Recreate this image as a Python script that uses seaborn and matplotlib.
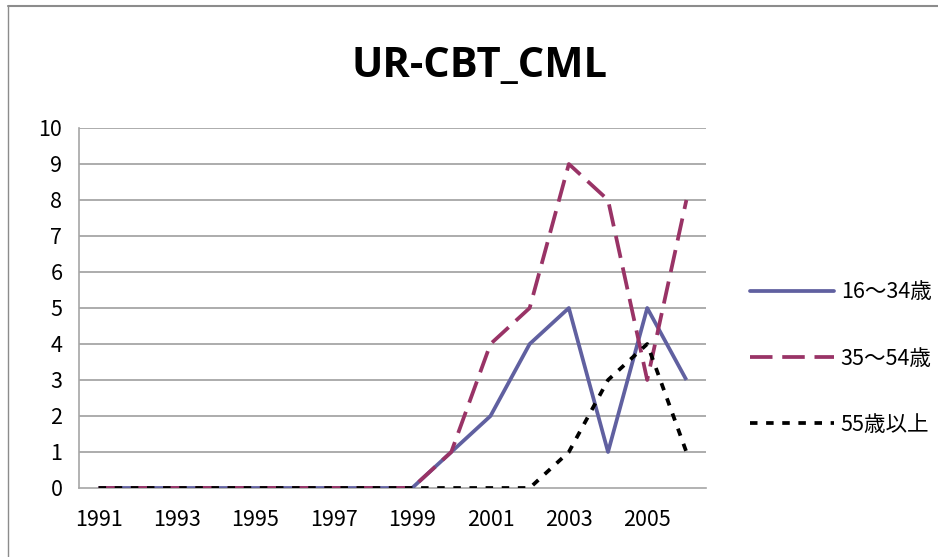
import numpy as np
import pandas as pd
import matplotlib
matplotlib.use("Agg")
import matplotlib.pyplot as plt
import seaborn as sns

years = list(range(1991, 2007))
young = [0, 0, 0, 0, 0, 0, 0, 0, 0, 1, 2, 4, 5, 1, 5, 3]
middle = [0, 0, 0, 0, 0, 0, 0, 0, 0, 1, 4, 5, 9, 8, 3, 8]
senior = [0, 0, 0, 0, 0, 0, 0, 0, 0, 0, 0, 0, 1, 3, 4, 1]
series_names = ["16～34歳", "35～54歳", "55歳以上"]
colors = ["#6060A0", "#993366", "#000000"]

sns.set_theme(style="white")
plt.rcParams["font.family"] = ["Noto Sans CJK JP", "DejaVu Sans"]
plt.rcParams["text.color"] = "black"
plt.rcParams["xtick.labelcolor"] = "black"
plt.rcParams["ytick.labelcolor"] = "black"

df = pd.DataFrame({"year": years, series_names[0]: young,
                   series_names[1]: middle, series_names[2]: senior})
df["pos"] = np.arange(len(years))
long = df.melt(id_vars=["year", "pos"], value_vars=series_names,
               var_name="group", value_name="count")

LW = 2.7
dash_styles = [(1, 0), (6, 2.6), (2.0, 2.3)]

fig = plt.figure(figsize=(9.38, 5.57), dpi=100)
ax = fig.add_axes([79 / 938, 1 - 488 / 557, 627 / 938, 360 / 557])

# horizontal gridlines first, behind the lines
for v in range(1, 11):
    ax.axhline(v, color="#A6A6A6", lw=1.3, zorder=0)

sns.lineplot(data=long, x="pos", y="count", hue="group", style="group",
             palette=colors, dashes=dash_styles,
             linewidth=LW, legend=False, ax=ax, zorder=3)
for ln in ax.lines[-3:]:
    ln.set_solid_capstyle("butt")
    ln.set_dash_capstyle("butt")

ax.set_xlim(-0.5, len(years) - 0.5)
ax.set_ylim(0, 10)
ax.set_yticks(range(0, 11))
ax.set_xticks(np.arange(-0.5, len(years), 1.0))
ax.set_xticklabels([])
ax.set_xticks(np.arange(0, len(years), 2), minor=True)
ax.set_xticklabels([str(y) for y in years[::2]], minor=True)
ax.tick_params(axis="x", which="major", length=6, width=1, color="#A6A6A6",
               direction="inout")
ax.tick_params(axis="x", which="minor", length=0, pad=15, labelsize=15.5)
ax.tick_params(axis="y", length=6, width=1, color="#A6A6A6", pad=6,
               labelsize=15.5, direction="out")
ax.set_xlabel("")
ax.set_ylabel("")
for s in ["top", "right"]:
    ax.spines[s].set_visible(False)
for s in ["left", "bottom"]:
    ax.spines[s].set_color("#A6A6A6")
    ax.spines[s].set_linewidth(1.2)

fig.text(479 / 938, 1 - 66 / 557, "UR-CBT_CML", ha="center", va="center",
         fontsize=30, fontweight="bold", color="black",
         family=["Liberation Sans Narrow", "Open Sans", "DejaVu Sans"])

handles = [plt.Line2D([], [], color=colors[0], lw=LW)]
handles += [plt.Line2D([], [], color=c, lw=LW, dashes=d)
            for c, d in zip(colors[1:], dash_styles[1:])]
fig.legend(handles, series_names, loc="upper left",
           bbox_to_anchor=(731 / 938, 1 - 262 / 557), frameon=False,
           fontsize=15.5, handlelength=3.9, handletextpad=0.3,
           labelspacing=2.05)

# chart border (top and left edges visible)
fig.add_artist(plt.Line2D([8 / 938, 1], [1 - 5.5 / 557, 1 - 5.5 / 557],
                          color="#8C8C8C", lw=1.5))
fig.add_artist(plt.Line2D([8 / 938, 8 / 938], [0, 1 - 5.5 / 557],
                          color="#8C8C8C", lw=1.0))

fig.savefig("out.png", dpi=100)
